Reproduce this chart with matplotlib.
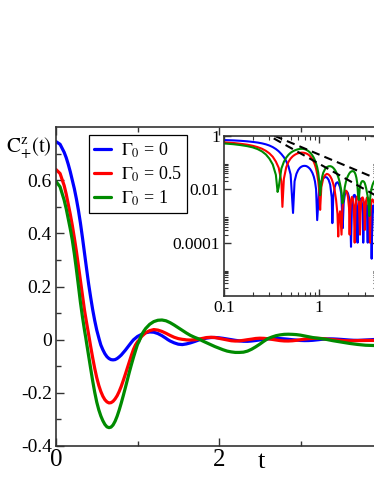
import numpy as np
import matplotlib
matplotlib.use("Agg")
import matplotlib.pyplot as plt
from matplotlib.ticker import FixedLocator, NullFormatter, FixedFormatter

plt.rcParams['font.family'] = ['Liberation Serif', 'DejaVu Serif']
plt.rcParams['mathtext.fontset'] = 'stix'
plt.rcParams['axes.unicode_minus'] = False

# C_+^z(t)
t_blue = [0, 0.05, 0.1, 0.125, 0.15, 0.175, 0.2, 0.225, 0.25, 0.275, 0.3, 0.325,
          0.35, 0.375, 0.4, 0.425, 0.45, 0.475, 0.5, 0.53, 0.55, 0.575, 0.6, 0.625,
          0.65, 0.675, 0.7, 0.725, 0.75, 0.775, 0.8, 0.825, 0.85, 0.875, 0.9, 0.925,
          0.95, 1.0, 1.05, 1.1, 1.15, 1.2, 1.25, 1.3, 1.35, 1.37, 1.4, 1.45, 1.5,
          1.55, 1.6, 1.65, 1.7, 1.76, 1.8, 1.85, 1.9, 1.95, 2.0, 2.05, 2.1, 2.15,
          2.2, 2.25, 2.3, 2.35, 2.4, 2.45, 2.52, 2.55, 2.6, 2.65, 2.7, 2.75, 2.8,
          2.85, 2.89, 2.95, 3.0, 3.05, 3.1, 3.15, 3.22, 3.25, 3.3, 3.35, 3.4, 3.45,
          3.5, 3.54, 3.6, 3.65, 3.7, 3.75, 3.8, 3.87, 3.9, 3.95, 4.0]
c_blue = [0.745, 0.735, 0.705, 0.685, 0.66, 0.632, 0.6, 0.568, 0.53, 0.487, 0.438, 0.383,
          0.325, 0.267, 0.21, 0.16, 0.113, 0.072, 0.036, 0.0013, -0.02, -0.038, -0.053, -0.064,
          -0.071, -0.075, -0.076, -0.075, -0.071, -0.065, -0.058, -0.049, -0.04, -0.03, -0.02, -0.01,
          -0.0007, 0.012, 0.02, 0.026, 0.029, 0.028, 0.023, 0.015, 0.005, 0.00054, -0.005, -0.012, -0.017,
          -0.0185, -0.016, -0.012, -0.007, -0.00035, 0.003, 0.006, 0.008, 0.0082, 0.007, 0.005, 0.0025, 0.00007,
          -0.0025, -0.0045, -0.006, -0.0062, -0.005, -0.0032, -0.0001, 0.0015, 0.003, 0.0042, 0.0045, 0.004, 0.003,
          0.0015, 0.0001, -0.0015, -0.003, -0.0035, -0.0033, -0.0024, -0.0001, 0.001, 0.0024, 0.003, 0.0028, 0.002,
          0.001, 0.000025, -0.0014, -0.0023, -0.0025, -0.002, -0.0012, -0.00005, 0.0005, 0.0015, 0.002]

t_red = [0, 0.05, 0.1, 0.125, 0.15, 0.175, 0.2, 0.225, 0.25, 0.275, 0.3, 0.325,
         0.35, 0.375, 0.4, 0.41, 0.425, 0.45, 0.475, 0.5, 0.525, 0.55, 0.575, 0.6,
         0.625, 0.65, 0.675, 0.7, 0.725, 0.75, 0.775, 0.8, 0.825, 0.85, 0.875, 0.9,
         0.925, 0.95, 0.975, 1.0, 1.02, 1.05, 1.1, 1.15, 1.2, 1.25, 1.3, 1.35, 1.4,
         1.45, 1.5, 1.55, 1.58, 1.6, 1.65, 1.71, 1.75, 1.8, 1.85, 1.9, 1.95, 2.0,
         2.05, 2.08, 2.1, 2.15, 2.2, 2.25, 2.3, 2.35, 2.4, 2.45, 2.5, 2.55, 2.6,
         2.67, 2.7, 2.75, 2.8, 2.85, 2.9, 2.95, 3.0, 3.05, 3.1, 3.15, 3.2, 3.25,
         3.3, 3.35, 3.4, 3.45, 3.5, 3.55, 3.6, 3.65, 3.7, 3.75, 3.8, 3.85, 3.9,
         3.95, 4.0]
c_red = [0.64, 0.625, 0.58, 0.548, 0.51, 0.472, 0.43, 0.383, 0.333, 0.278, 0.222, 0.166,
         0.11, 0.064, 0.02, 0.0022, -0.025, -0.068, -0.108, -0.143, -0.172, -0.195, -0.213, -0.226,
         -0.234, -0.238, -0.237, -0.232, -0.223, -0.211, -0.195, -0.176, -0.154, -0.131, -0.107, -0.083,
         -0.059, -0.037, -0.02, -0.008, -0.0017, 0.012, 0.026, 0.034, 0.038, 0.036, 0.031, 0.024, 0.016,
         0.009, 0.004, 0.0012, 0.00017, -0.0008, -0.0015, -0.0002, 0.002, 0.005, 0.008, 0.009, 0.008, 0.005,
         0.002, 0.0002, -0.001, -0.004, -0.0052, -0.0045, -0.0025, -0.0001, 0.002, 0.0045, 0.0055, 0.005, 0.0035,
         0.0002, -0.0012, -0.0035, -0.0048, -0.005, -0.0042, -0.0025, -0.0003, 0.002, 0.0038, 0.0048, 0.005, 0.0045,
         0.0032, 0.0015, 0.0001, -0.0013, -0.0028, -0.0038, -0.0042, -0.004, -0.0036, -0.0032, -0.003, -0.0028, -0.003,
         -0.0031, -0.0032]

t_green = [0, 0.05, 0.1, 0.125, 0.15, 0.175, 0.2, 0.225, 0.25, 0.275, 0.3, 0.325,
           0.35, 0.365, 0.375, 0.4, 0.425, 0.45, 0.475, 0.5, 0.525, 0.55, 0.575, 0.6,
           0.625, 0.65, 0.675, 0.7, 0.725, 0.75, 0.775, 0.8, 0.825, 0.85, 0.875, 0.9,
           0.925, 0.95, 0.975, 1.0, 1.02, 1.05, 1.075, 1.1, 1.15, 1.2, 1.25, 1.3, 1.35,
           1.4, 1.45, 1.5, 1.55, 1.6, 1.65, 1.7, 1.75, 1.8, 1.85, 1.9, 1.95, 2.0,
           2.05, 2.1, 2.15, 2.2, 2.25, 2.3, 2.35, 2.4, 2.45, 2.5, 2.55, 2.6, 2.65,
           2.7, 2.75, 2.8, 2.85, 2.9, 2.95, 3.0, 3.05, 3.1, 3.15, 3.2, 3.25, 3.3,
           3.35, 3.4, 3.45, 3.5, 3.55, 3.6, 3.65, 3.7, 3.75, 3.8, 3.85, 3.9, 3.95,
           4.0]
c_green = [0.595, 0.575, 0.525, 0.493, 0.455, 0.417, 0.375, 0.323, 0.265, 0.203, 0.14, 0.085,
           0.035, 0.008, -0.012, -0.06, -0.108, -0.155, -0.198, -0.235, -0.264, -0.287, -0.305, -0.319,
           -0.328, -0.331, -0.329, -0.321, -0.307, -0.288, -0.265, -0.239, -0.211, -0.182, -0.152, -0.122,
           -0.094, -0.067, -0.042, -0.018, -0.006, 0.018, 0.031, 0.042, 0.058, 0.068, 0.073, 0.074, 0.071,
           0.064, 0.055, 0.045, 0.035, 0.025, 0.016, 0.009, 0.003, -0.005, -0.012, -0.019, -0.026, -0.032,
           -0.038, -0.043, -0.046, -0.048, -0.048, -0.047, -0.043, -0.036, -0.027, -0.017, -0.006, 0.004, 0.01,
           0.015, 0.018, 0.02, 0.0205, 0.02, 0.019, 0.017, 0.014, 0.011, 0.008, 0.006, 0.004, 0.002,
           -0.001, -0.004, -0.0065, -0.009, -0.0115, -0.014, -0.016, -0.018, -0.0195, -0.021, -0.0215, -0.022, -0.022,
           -0.022]

labels = [r'$\Gamma_0$ = 0', r'$\Gamma_0$ = 0.5', r'$\Gamma_0$ = 1']
colors = ['#0000ff', '#ff0000', '#008b00']

# power-law guides in the inset (end points)
guide_t = [0.25, 4.0]
guide_upper = [1.6, 0.025]
guide_lower = [1.44, 0.0056]

W, H = 374, 484
fig = plt.figure(figsize=(W / 100, H / 100), dpi=100)

ax = fig.add_axes([56 / W, (H - 446) / H, 326 / W, 319 / H])
series = [(t_blue, c_blue), (t_red, c_red), (t_green, c_green)]
for (tt, cc), col, lab in zip(series, colors, labels):
    ax.plot(tt, cc, color=col, lw=2.3, label=lab, solid_capstyle='round',
            solid_joinstyle='round')

ax.set_xlim(0, 4)
ax.set_ylim(-0.4, 0.8)
ax.set_xticks([0, 2, 4])
ax.set_xticks([1, 3], minor=True)
ax.set_yticks([-0.4, -0.2, 0, 0.2, 0.4, 0.6])
ax.set_yticklabels(['-0.4', '-0.2', '0', '0.2', '0.4', '0.6'])
ax.set_yticks([-0.3, -0.1, 0.1, 0.3, 0.5, 0.7], minor=True)
ax.set_xticklabels(['0', '2', ''])
ax.tick_params(which='both', direction='in', top=True, right=True, color='#333333')
ax.tick_params(which='major', length=6, width=1.0)
ax.tick_params(which='minor', length=3.5, width=1.0)
ax.tick_params(axis='y', labelsize=14, pad=3)
ax.tick_params(axis='x', labelsize=18, pad=2)
for s in ax.spines.values():
    s.set_linewidth(1.2)
    s.set_color('#333333')

leg = ax.legend(loc='upper left', bbox_to_anchor=(0.101, 0.975), borderaxespad=0,
                fontsize=13, handlelength=0.95, handletextpad=0.5, labelspacing=0.25,
                borderpad=0.3, fancybox=False, framealpha=1, edgecolor='black')
leg.get_frame().set_linewidth(0.9)

fig.text(6 / W, 1 - 148 / H, r'$\mathrm{C}^{\mathrm{z}}_{+}\mathrm{(t)}$', fontsize=15,
         ha='left', va='center')
fig.text(261 / W, 1 - 462 / H, 't', fontsize=19, ha='center', va='center')

# inset: |C(t)| on log-log axes
ins = fig.add_axes([224 / W, (H - 296) / H, 152.7 / W, 160 / H])
for (tt, cc), col in zip(series, colors):
    tt = np.array(tt)
    cc = np.abs(np.array(cc))
    keep = tt > 0
    ins.plot(tt[keep], cc[keep], color=col, lw=1.5)
ins.plot(guide_t, guide_upper, color='black', lw=1.5, dashes=(4, 2.5))
ins.plot(guide_t, guide_lower, color='black', lw=1.5, dashes=(4, 2.5))
ins.set_xscale('log')
ins.set_yscale('log')
ins.set_xlim(0.1, 4)
ins.set_ylim(1e-6, 1)
ins.xaxis.set_major_locator(FixedLocator([0.1, 1]))
ins.xaxis.set_major_formatter(FixedFormatter(['0.1', '1']))
ins.xaxis.set_minor_locator(FixedLocator([0.2, 0.3, 0.4, 0.5, 0.6, 0.7, 0.8, 0.9, 2, 3]))
ins.xaxis.set_minor_formatter(NullFormatter())
ins.yaxis.set_major_locator(FixedLocator([1e-4, 1e-2, 1]))
ins.yaxis.set_major_formatter(FixedFormatter(['0.0001', '0.01', '1']))
yminor = []
for d in [1e-2, 1e-4, 1e-6]:
    yminor += [k * d for k in range(2, 10)]
ins.yaxis.set_minor_locator(FixedLocator(yminor))
ins.yaxis.set_minor_formatter(NullFormatter())
ins.tick_params(which='both', direction='in', top=True, right=True, labelsize=12.5,
                color='#333333', pad=3)
ins.tick_params(which='major', length=5, width=1.0)
ins.tick_params(which='minor', length=3, width=0.8)
for s in ins.spines.values():
    s.set_linewidth(1.2)
    s.set_color('#333333')

fig.savefig('out.png', dpi=100)
